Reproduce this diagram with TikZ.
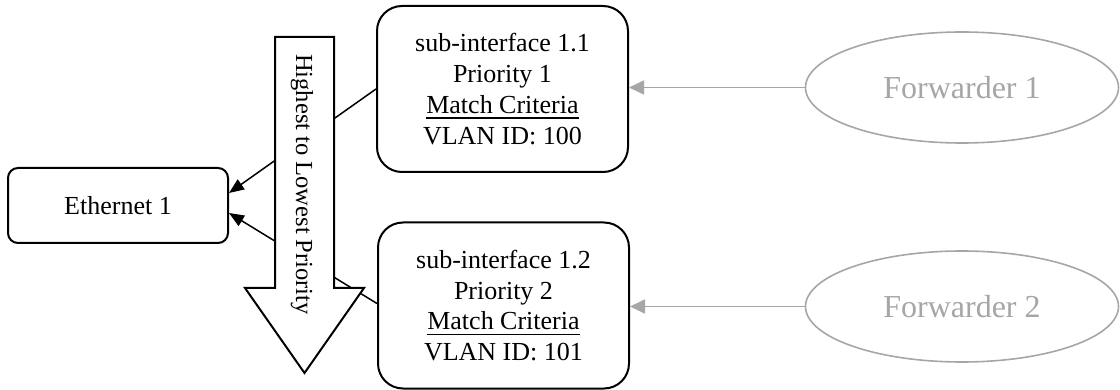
\documentclass[tikz,border=0pt]{standalone}
\usepackage{fontspec}
\setmainfont{Liberation Serif}
\usetikzlibrary{shapes.geometric,arrows.meta,calc}
\definecolor{fwgray}{HTML}{A6A6A6}
\newcommand\mcul[1]{\setbox0\hbox{#1}\rlap{\rule[-5.5pt]{\wd0}{1.8pt}}\box0}
\begin{document}
\begin{tikzpicture}[x=1pt,y=-1pt,
  every node/.style={font=\fontsize{26}{30.7}\selectfont},
  box/.style={draw,line width=2pt,rounded corners=25pt,align=center,inner sep=0pt,
    minimum width=251pt,minimum height=166pt},
  ethbox/.style={draw,line width=2pt,rounded corners=10pt,inner sep=0pt,
    minimum width=220pt,minimum height=75pt},
  fwd/.style={draw=fwgray,text=fwgray,line width=1.6pt,ellipse,inner sep=0pt,
    minimum width=313pt,minimum height=111pt,font=\fontsize{32}{36}\selectfont},
  blackedge/.style={line width=1.5pt,-{Triangle[length=15pt,width=12pt]}},
  grayedge/.style={draw=fwgray,line width=1.7pt,-{Triangle[length=15pt,width=14pt]},fwgray},
  bigarrow/.style={draw,fill=white,line width=2pt,line join=miter}
]
\useasboundingbox (0,0) rectangle (1120,390);

\node[ethbox] (eth) at (118,205.5) {Ethernet 1};
\node[box] (sub1) at (502.5,89) {sub-interface 1.1\\Priority 1\\\mcul{Match Criteria}\\VLAN ID: 100};
\node[box] (sub2) at (503.5,305.5) {sub-interface 1.2\\Priority 2\\\mcul{Match Criteria}\\VLAN ID: 101};
\node[fwd] (fw1) at (962,87.5) {Forwarder 1};
\node[fwd] (fw2) at (962,306.5) {Forwarder 2};

\draw[blackedge] (sub1.west) -- ($(eth.east)+(0,-12.5)$);
\draw[blackedge] ($(sub2.west)+(0,-2)$) -- ($(eth.east)+(0,7.5)$);

\draw[grayedge] (fw1.west) -- (fw1.west -| sub1.east);
\draw[grayedge] (fw2.west) -- (fw2.west -| sub2.east);

\draw[bigarrow] (275,37) -- (334,37) -- (334,288) -- (364,288) -- (304.5,373)
  -- (245,288) -- (275,288) -- cycle;
\node[rotate=-90,font=\fontsize{24.5}{28}\selectfont,inner sep=0pt] (prio) at (302,184.5) {Highest to Lowest Priority};
\end{tikzpicture}
\end{document}
